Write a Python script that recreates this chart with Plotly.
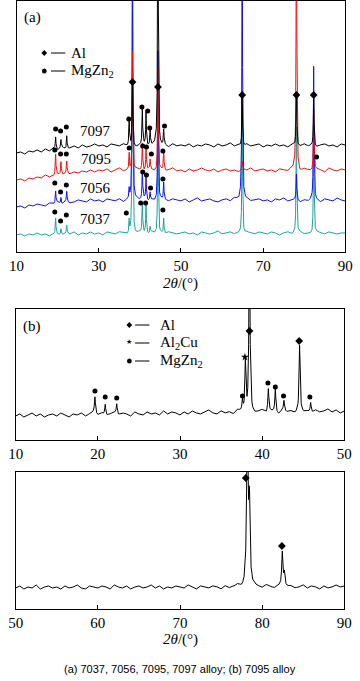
import numpy as np
import plotly.graph_objects as go

W, H = 360, 681

# ================= Panel (a): 7037, 7056, 7095, 7097 =================
grid_a = np.arange(10, 91, 1.0)  # 2theta, 1 degree step

base_7097 = [99,100,98,101,100,102,100,103,101,104, 102,105,103,104,106,104,107,105,106,108,
             106,107,105,108,107,106,108,106,107,105, 107,108,106,107,109,106,107,105,108,106,
             107,106,108,105,107,106,108,107,105,108, 106,107,109,106,107,105,108,106,107,108,
             105,107,106,108,106,107,105,108,107,106, 108,106,107,105,107,108,106,107,105,108, 107]
base_7095 = [72,73,71,74,73,75,74,77,75,76, 78,77,79,78,80,79,81,80,82,80,
             82,81,83,80,82,84,81,82,80,83, 82,81,83,82,80,83,81,82,84,81,
             82,80,83,81,82,84,82,81,83,80, 82,83,81,82,80,83,82,84,81,82,
             83,81,82,80,83,82,81,84,82,80, 83,82,81,83,82,80,84,82,81,83, 82]
base_7056 = [45,46,44,47,46,48,47,46,49,48, 50,48,51,49,50,52,51,50,53,51,
             52,50,53,52,51,53,50,52,51,53, 52,54,51,52,50,53,52,51,53,52,
             51,53,50,52,54,51,52,53,51,50, 52,53,51,54,52,50,53,51,52,53,
             51,52,50,53,52,54,51,52,53,50, 52,51,53,52,50,53,52,51,54,52, 51]
base_7037 = [17,18,16,18,17,19,17,18,16,18, 18,17,19,18,20,17,19,18,20,18,
             19,17,20,19,18,20,19,17,19,18, 20,19,18,20,17,19,18,20,19,18,
             19,20,18,19,17,20,19,18,19,21, 18,19,20,18,19,17,20,19,18,20,
             19,18,20,19,17,19,20,18,19,20, 18,19,17,20,19,18,20,19,18,19, 19]

al_pos_a = [38.2, 44.4, 64.9, 78.1, 82.3]
mg_pos_a = [19.5, 20.8, 22.2, 37.4, 40.6, 41.5, 42.5, 45.8]

h_al_7097 = [65, 300, 50, 50, 50]
h_mg_7097 = [12, 8, 13, 27, 35, 32, 15, 15]
h_al_7095 = [120, 105, 8, 300, 60]
h_mg_7095 = [21, 13, 12, 17, 27, 22, 10, 20]
h_al_7056 = [300, 150, 300, 25, 133]
h_mg_7056 = [12, 6, 10, 10, 28, 22, 8, 17]
h_al_7037 = [250, 128, 130, 106, 106]
h_mg_7037 = [16, 6, 8, 13, 30, 30, 6, 15]

# phase markers (a)
al_mark_a_x = [38.2, 44.4, 64.9, 78.1, 82.3]
al_mark_a_y = [170, 165, 157, 157, 157]
mg_mark_7097_x = [19.5, 20.7, 22.1, 37.3, 40.5, 41.9, 42.4, 46.0]
mg_mark_7097_y = [123, 121, 125, 133, 145, 141, 124, 126]
mg_mark_7095_x = [19.3, 20.7, 22.1, 37.4, 40.7, 41.6, 42.8, 45.6, 83.0]
mg_mark_7095_y = [102, 98, 98, 104, 106, 105, 98, 101, 95]
mg_mark_7056_x = [19.3, 20.7, 22.1, 40.7, 41.6, 42.6, 45.6]
mg_mark_7056_y = [69, 60, 67, 80, 77, 64, 73]
mg_mark_7037_x = [19.3, 20.7, 22.1, 36.7, 40.2, 41.4, 45.6]
mg_mark_7037_y = [40, 31, 37, 39, 49, 49, 42]

# ================= Panel (b): 7095 =================
grid_b1 = np.arange(10, 50.01, 0.5)
base_b1 = [24,26,23,25,27,24,26,23,25,26, 24,27,25,23,26,25,27,24,26,28,
           25,27,24,26,28,25,27,26,24,28, 26,25,28,26,27,25,29,26,28,27,
           25,28,26,29,27,26,28,30,27,26, 29,27,28,26,30,28,27,29,26,28,
           30,27,29,28,26,30,28,29,27,30, 28,29,27,30,28,29,31,28,30,27, 29]
al_pos_b1 = [38.45, 44.55]
al_h_b1 = [200, 65]
cu_pos_b1 = [37.95]
cu_h_b1 = [50]
mg_pos_b1 = [19.65, 20.9, 22.3, 37.6, 40.75, 41.6, 42.65, 45.9]
mg_h_b1 = [16, 11, 10, 11, 23, 23, 10, 10]

al_mark_b1_x = [38.45, 44.5]
al_mark_b1_y = [109, 99]
cu_mark_b1_x = [37.9]
cu_mark_b1_y = [83]
mg_mark_b1_x = [19.65, 20.9, 22.3, 37.6, 40.7, 41.6, 42.6, 45.8]
mg_mark_b1_y = [49, 43, 42, 44, 57, 53, 44, 43]

grid_b2 = np.arange(50, 90.01, 0.5)
base_b2 = [21,23,20,22,21,24,20,22,23,21, 22,20,23,21,22,24,21,20,23,22,
           21,23,22,20,24,22,21,23,20,22, 23,21,22,24,21,23,20,22,21,23,
           22,21,24,22,20,23,22,21,23,22, 20,23,21,22,24,21,22,20,23,22,
           21,24,22,21,23,20,22,23,21,22, 24,21,23,22,20,23,21,22,24,22, 23]
al_pos_b2 = [78.2, 78.45, 82.45, 82.7]
al_h_b2 = [200, 80, 36, 14]
al_mark_b2_x = [78.0, 82.4]
al_mark_b2_y = [131, 63]

# tick labels
ticks_a = [10, 30, 50, 70, 90]
ticks_b1 = [10, 20, 30, 40, 50]
ticks_b2 = [50, 60, 70, 80, 90]

OFFS = np.array([-1.5, -0.8, -0.4, -0.2, -0.1, -0.05, 0, 0.05, 0.1, 0.2, 0.4, 0.8, 1.5])


def profile(grid, base, positions, heights, w):
    xs = [np.asarray(grid, float)]
    for p in positions:
        xs.append(p + OFFS)
    x = np.unique(np.concatenate(xs))
    x = x[(x >= grid[0]) & (x <= grid[-1])]
    y = np.interp(x, grid, base)
    for p, h in zip(positions, heights):
        y = y + h / (1 + ((x - p) / w) ** 2)
    return x, y


def px(x):
    return x / W


def py(y):
    return 1 - y / H


TEAL, BLUE, RED, BLACK = "#1fa39c", "#1010f0", "#f01010", "#000000"

fig = go.Figure()

series_a = [
    (base_7037, h_al_7037, h_mg_7037, TEAL, mg_mark_7037_x, mg_mark_7037_y),
    (base_7056, h_al_7056, h_mg_7056, BLUE, mg_mark_7056_x, mg_mark_7056_y),
    (base_7095, h_al_7095, h_mg_7095, RED, mg_mark_7095_x, mg_mark_7095_y),
    (base_7097, h_al_7097, h_mg_7097, BLACK, mg_mark_7097_x, mg_mark_7097_y),
]
for base, hal, hmg, col, mx, my in series_a:
    x, y = profile(grid_a, base, al_pos_a + mg_pos_a, hal + hmg, 0.09)
    fig.add_trace(go.Scatter(x=x, y=y, mode="lines", line=dict(color=col, width=1),
                             xaxis="x", yaxis="y"))
for base, hal, hmg, col, mx, my in series_a:
    fig.add_trace(go.Scatter(x=mx, y=my, mode="markers",
                             marker=dict(symbol="circle", size=5, color="black"),
                             xaxis="x", yaxis="y"))
fig.add_trace(go.Scatter(x=al_mark_a_x, y=al_mark_a_y, mode="markers",
                         marker=dict(symbol="diamond", size=6, color="black"),
                         xaxis="x", yaxis="y"))

# (b) upper
x, y = profile(grid_b1, base_b1, al_pos_b1 + cu_pos_b1 + mg_pos_b1,
               al_h_b1 + cu_h_b1 + mg_h_b1, 0.07)
fig.add_trace(go.Scatter(x=x, y=y, mode="lines", line=dict(color="black", width=1),
                         xaxis="x2", yaxis="y2"))
fig.add_trace(go.Scatter(x=mg_mark_b1_x, y=mg_mark_b1_y, mode="markers",
                         marker=dict(symbol="circle", size=5, color="black"),
                         xaxis="x2", yaxis="y2"))
fig.add_trace(go.Scatter(x=al_mark_b1_x, y=al_mark_b1_y, mode="markers",
                         marker=dict(symbol="diamond", size=6, color="black"),
                         xaxis="x2", yaxis="y2"))
fig.add_trace(go.Scatter(x=cu_mark_b1_x, y=cu_mark_b1_y, mode="markers",
                         marker=dict(symbol="star", size=6, color="black"),
                         xaxis="x2", yaxis="y2"))

# (b) lower
x, y = profile(grid_b2, base_b2, al_pos_b2, al_h_b2, 0.09)
fig.add_trace(go.Scatter(x=x, y=y, mode="lines", line=dict(color="black", width=1),
                         xaxis="x3", yaxis="y3"))
fig.add_trace(go.Scatter(x=al_mark_b2_x, y=al_mark_b2_y, mode="markers",
                         marker=dict(symbol="diamond", size=6, color="black"),
                         xaxis="x3", yaxis="y3"))

SERIF = "Liberation Serif"
tickfont = dict(family=SERIF, size=15, color="black")


def xax(dom, rng, tv, anchor):
    return dict(domain=dom, range=rng, tickvals=tv, ticktext=[str(t) for t in tv],
                ticks="inside", ticklen=4, tickcolor="black", tickwidth=1,
                showline=True, linecolor="black", linewidth=1, mirror=True,
                showgrid=False, zeroline=False, tickfont=tickfont, anchor=anchor)


def yax(dom, rng, anchor):
    return dict(domain=dom, range=rng, showticklabels=False, ticks="",
                showline=True, linecolor="black", linewidth=1, mirror=True,
                showgrid=False, zeroline=False, anchor=anchor)


fig.update_layout(
    width=W, height=H, margin=dict(l=0, r=0, t=0, b=0),
    paper_bgcolor="white", plot_bgcolor="white", showlegend=False,
    xaxis=xax([px(9), px(353)], [10, 90], ticks_a, "y"),
    yaxis=yax([py(252), py(1)], [0, 251], "x"),
    xaxis2=xax([px(8), px(352)], [10, 50], ticks_b1, "y2"),
    yaxis2=yax([py(440), py(309)], [0, 131], "x2"),
    xaxis3=xax([px(8), px(352)], [50, 90], ticks_b2, "y3"),
    yaxis3=yax([py(609), py(472)], [0, 137], "x3"),
)

ann = []


def text(t, x, y, size=15, family=SERIF, xanchor="center"):
    ann.append(dict(text=t, x=px(x), y=py(y), xref="paper", yref="paper",
                    xanchor=xanchor, yanchor="middle", showarrow=False,
                    font=dict(family=family, size=size, color="black")))


text("(a)", 26, 18)
text("Al", 64, 53, xanchor="left")
text("MgZn<sub>2</sub>", 64, 71, xanchor="left")
text("7097", 92, 131)
text("7095", 92, 159)
text("7056", 92, 188)
text("7037", 92, 219)
text("<i>2θ</i>/(°)", 180, 283)
text("(b)", 25, 327)
text("Al", 157, 325, xanchor="left")
text("Al<sub>2</sub>Cu", 157, 343, xanchor="left")
text("MgZn<sub>2</sub>", 157, 361, xanchor="left")
text("★", 127, 342, size=7, family="DejaVu Sans")
text("<i>2θ</i>/(°)", 180, 639)
text("(a) 7037, 7056, 7095, 7097 alloy; (b) 7095 alloy", 180, 669, size=11,
     family="Liberation Sans")
fig.update_layout(annotations=ann)

shapes = []


def dash(x0, x1, y):
    shapes.append(dict(type="line", xref="paper", yref="paper",
                       x0=px(x0), x1=px(x1), y0=py(y), y1=py(y),
                       line=dict(color="black", width=1)))


def dot(cx, cy, r=2.5):
    shapes.append(dict(type="circle", xref="paper", yref="paper",
                       x0=px(cx - r), x1=px(cx + r), y0=py(cy + r), y1=py(cy - r),
                       fillcolor="black", line=dict(width=0)))


def diamond(cx, cy, r=3):
    path = (f"M {px(cx - r)},{py(cy)} L {px(cx)},{py(cy - r)} "
            f"L {px(cx + r)},{py(cy)} L {px(cx)},{py(cy + r)} Z")
    shapes.append(dict(type="path", xref="paper", yref="paper", path=path,
                       fillcolor="black", line=dict(width=0)))


diamond(38, 53); dash(45, 60, 53)
dot(38, 71); dash(45, 60, 71)
diamond(127, 325); dash(133, 148, 325)
dash(133, 148, 343)
dot(127, 361); dash(133, 148, 361)
fig.update_layout(shapes=shapes)

fig.write_html("out.html", config={"displayModeBar": False},
               post_script="document.body.style.margin='0';document.body.style.padding='0';")
